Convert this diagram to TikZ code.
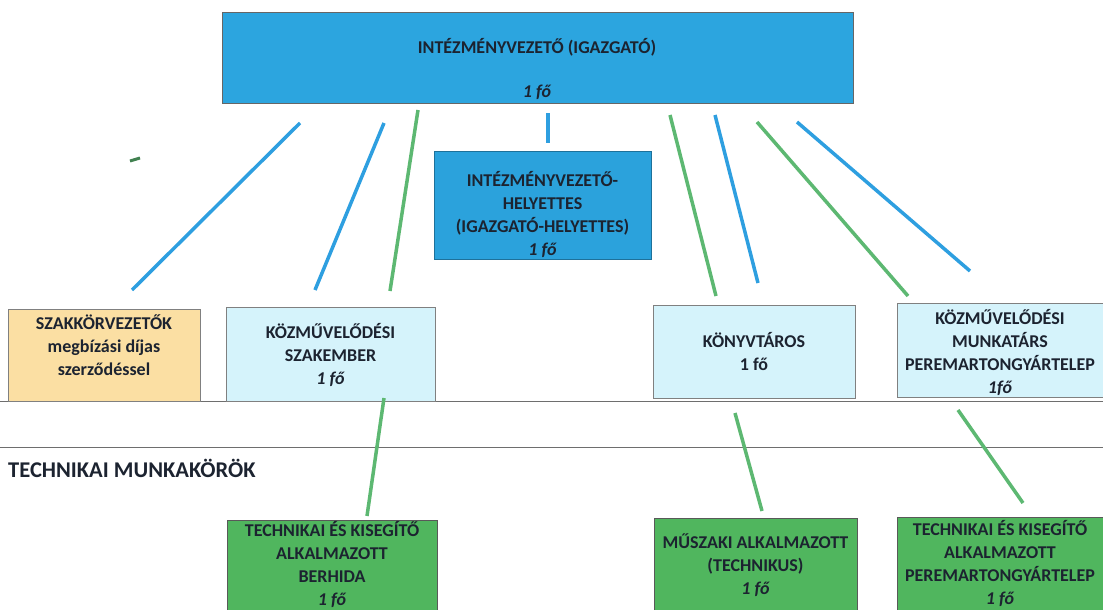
\documentclass[tikz,border=0pt]{standalone}
\usepackage{fontspec}
\setmainfont{Carlito}
\definecolor{topblue}{HTML}{2CA5DF}
\definecolor{midblue}{HTML}{2BA2DC}
\definecolor{lightcyan}{HTML}{D5F3FB}
\definecolor{lightorange}{HTML}{FBDFA3}
\definecolor{boxgreen}{HTML}{50B65E}
\definecolor{lineblue}{HTML}{2E9FE0}
\definecolor{linegreen}{HTML}{5DB872}
\definecolor{txt}{HTML}{1C2330}
\definecolor{rule}{HTML}{6E6E6E}
\begin{document}
\begin{tikzpicture}[x=1pt,y=-1pt,
  box/.style={draw=#1, line width=0.8pt, inner sep=0pt, anchor=north west},
  lbl/.style={font=\fontsize{18}{23}\selectfont\bfseries, text=txt, align=center, inner sep=0pt},
  bl/.style={line width=3.5pt, lineblue},
  gl/.style={line width=3.5pt, linegreen}]
\useasboundingbox (0,0) rectangle (1103,610);
% horizontal rules
\coordinate (r1a) at (0,401); \coordinate (r1b) at (1103,401);
\coordinate (r2a) at (0,447); \coordinate (r2b) at (1103,447);
\draw[rule, line width=1pt] (r1a) -- (r1b);
\draw[rule, line width=1pt] (r2a) -- (r2b);
% boxes
\node[box=black!60, fill=topblue, minimum width=631pt, minimum height=91pt] (top) at (222,12) {};
\node[lbl] (toptitle) at (537,47) {INTÉZMÉNYVEZETŐ (IGAZGATÓ)};
\node[lbl] (topcount) at (537,92) {\itshape 1 fő};
\node[box=midblue!70!black, fill=midblue, minimum width=217pt, minimum height=108pt] (mid) at (434,151) {};
\node[lbl] (midtxt) at (542.5,214) {INTÉZMÉNYVEZETŐ-\\HELYETTES\\(IGAZGATÓ-HELYETTES)\\\itshape 1 fő};
\node[box=gray, fill=lightorange, minimum width=192pt, minimum height=92pt] (szak) at (8,309) {};
\node[lbl] (szaktxt) at (104,345) {SZAKKÖRVEZETŐK\\megbízási díjas\\szerződéssel};
\node[box=gray, fill=lightcyan, minimum width=209pt, minimum height=94pt] (kozsz) at (226,307) {};
\node[lbl] (kozsztxt) at (330.5,355) {KÖZMŰVELŐDÉSI\\SZAKEMBER\\\itshape 1 fő};
\node[box=gray, fill=lightcyan, minimum width=202pt, minimum height=93pt] (konyv) at (653,305) {};
\node[lbl] (konyvtxt) at (754,352) {KÖNYVTÁROS\\1 fő};
\node[box=gray, fill=lightcyan, minimum width=210pt, minimum height=94pt] (kozmu) at (897,303) {};
\node[lbl] (kozmutxt) at (1000,352) {KÖZMŰVELŐDÉSI\\MUNKATÁRS\\PEREMARTONGYÁRTELEP\\\itshape 1fő};
\node[font=\fontsize{22.5}{26}\selectfont\bfseries, text=txt, anchor=west, inner sep=0pt] (tech) at (8,468) {TECHNIKAI MUNKAKÖRÖK};
\node[box=gray!70!black, fill=boxgreen, minimum width=210pt, minimum height=95pt] (berh) at (227,520) {};
\node[lbl] (berhtxt) at (332,564.5) {TECHNIKAI ÉS KISEGÍTŐ\\ALKALMAZOTT\\BERHIDA\\\itshape 1 fő};
\node[box=gray!70!black, fill=boxgreen, minimum width=203pt, minimum height=95pt] (musz) at (654,518) {};
\node[lbl] (musztxt) at (755.5,565) {MŰSZAKI ALKALMAZOTT\\(TECHNIKUS)\\\itshape 1 fő};
\node[box=gray!70!black, fill=boxgreen, minimum width=210pt, minimum height=95pt] (perem) at (897,517) {};
\node[lbl] (peremtxt) at (1000,563) {TECHNIKAI ÉS KISEGÍTŐ\\ALKALMAZOTT\\PEREMARTONGYÁRTELEP\\\itshape 1 fő};
% connector ends
\coordinate (b1a) at (300,123); \coordinate (b1b) at (132,290);
\coordinate (b2a) at (384,123); \coordinate (b2b) at (315,290);
\coordinate (b3a) at (548,113); \coordinate (b3b) at (548,143);
\coordinate (b4a) at (715,115); \coordinate (b4b) at (758,283);
\coordinate (b5a) at (797,122); \coordinate (b5b) at (970,271);
\coordinate (g1a) at (418,110); \coordinate (g1b) at (390,291);
\coordinate (g2a) at (670,115); \coordinate (g2b) at (716,296);
\coordinate (g3a) at (757,122); \coordinate (g3b) at (908,296);
\coordinate (g4a) at (384,398); \coordinate (g4b) at (367,516);
\coordinate (g5a) at (735,413); \coordinate (g5b) at (762,511);
\coordinate (g6a) at (958,410); \coordinate (g6b) at (1023,503);
\coordinate (dsa) at (130,161); \coordinate (dsb) at (140,158);
\draw[bl] (b1a) -- (b1b);
\draw[bl] (b2a) -- (b2b);
\draw[bl] (b3a) -- (b3b);
\draw[bl] (b4a) -- (b4b);
\draw[bl] (b5a) -- (b5b);
\draw[gl] (g1a) -- (g1b);
\draw[gl] (g2a) -- (g2b);
\draw[gl] (g3a) -- (g3b);
\draw[gl] (g4a) -- (g4b);
\draw[gl] (g5a) -- (g5b);
\draw[gl] (g6a) -- (g6b);
\draw[gl, linegreen!70!black, line width=3pt] (dsa) -- (dsb);
\end{tikzpicture}
\end{document}
